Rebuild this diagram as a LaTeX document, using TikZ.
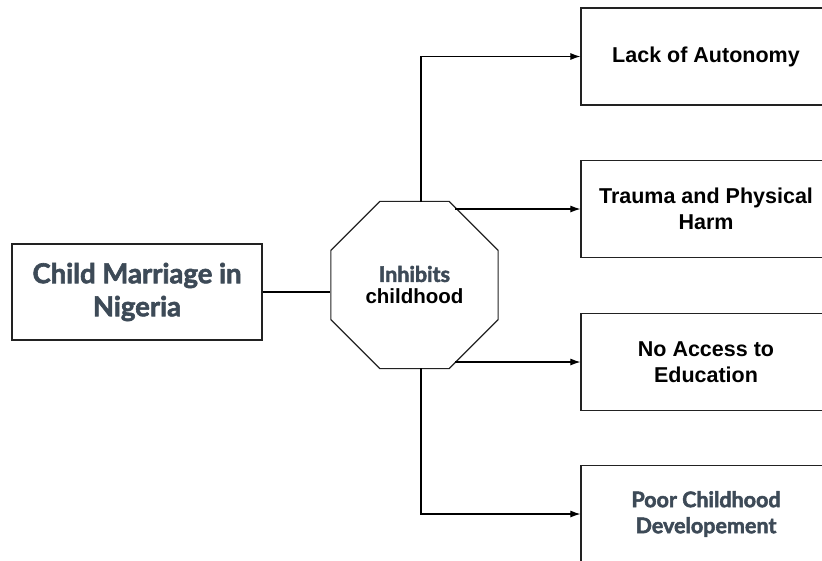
\documentclass[tikz,border=0pt]{standalone}
\usepackage{fontspec}
\setmainfont{Liberation Sans}
\newfontfamily\latofont{Lato}[FakeBold=2.2]
\usetikzlibrary{shapes.geometric,arrows.meta}
\definecolor{slate}{HTML}{3D4A57}
\definecolor{edge}{HTML}{222222}
\tikzset{
  box/.style={draw=edge, line width=1.2pt, minimum width=250pt, minimum height=97pt, inner sep=0pt, align=center, fill=white},
  arialtxt/.style={font=\fontsize{21.5}{26}\selectfont\bfseries, text=black},
  latotxt/.style={font=\latofont\fontsize{21.5}{26}\selectfont\bfseries, text=slate},
  conn/.style={draw=black, line width=1.1pt},
  arr/.style={conn, -{Latex[length=10pt,width=7pt]}},
}
\begin{document}
\begin{tikzpicture}[x=1pt,y=-1pt]
\useasboundingbox (0,0) rectangle (822,560);
\node[box, minimum width=250pt, minimum height=96pt, font=\latofont\fontsize{27.5}{33}\selectfont\bfseries, text=slate] (src) at (137,292) {Child Marriage in\\Nigeria};
\node[draw=edge, line width=1.2pt, regular polygon, regular polygon sides=8, minimum size=181pt, inner sep=0pt, align=center, font=\fontsize{20.5}{22}\selectfont\bfseries] (oct) at (414.5,285) {{\latofont\fontsize{21.5}{22}\selectfont\bfseries\color{slate}Inhibits}\\childhood};
\node[box, arialtxt] (b1) at (706,56.5) {Lack of Autonomy};
\node[box, arialtxt] (b2) at (706,209) {Trauma and Physical\\Harm};
\node[box, arialtxt] (b3) at (706,362) {No Access to\\Education};
\node[box, latotxt] (b4) at (706,514) {Poor Childhood\\Developement};
\coordinate (s1) at (421,202);
\coordinate (s2) at (455,209);
\coordinate (s3) at (455,362);
\coordinate (s4) at (421,368);
\draw[conn] (src.east) -- (src.east -| oct.west);
\draw[arr] (s1) |- (b1.west);
\draw[arr] (s2) -- (b2.west);
\draw[arr] (s3) -- (b3.west);
\draw[arr] (s4) |- (b4.west);
\end{tikzpicture}
\end{document}
